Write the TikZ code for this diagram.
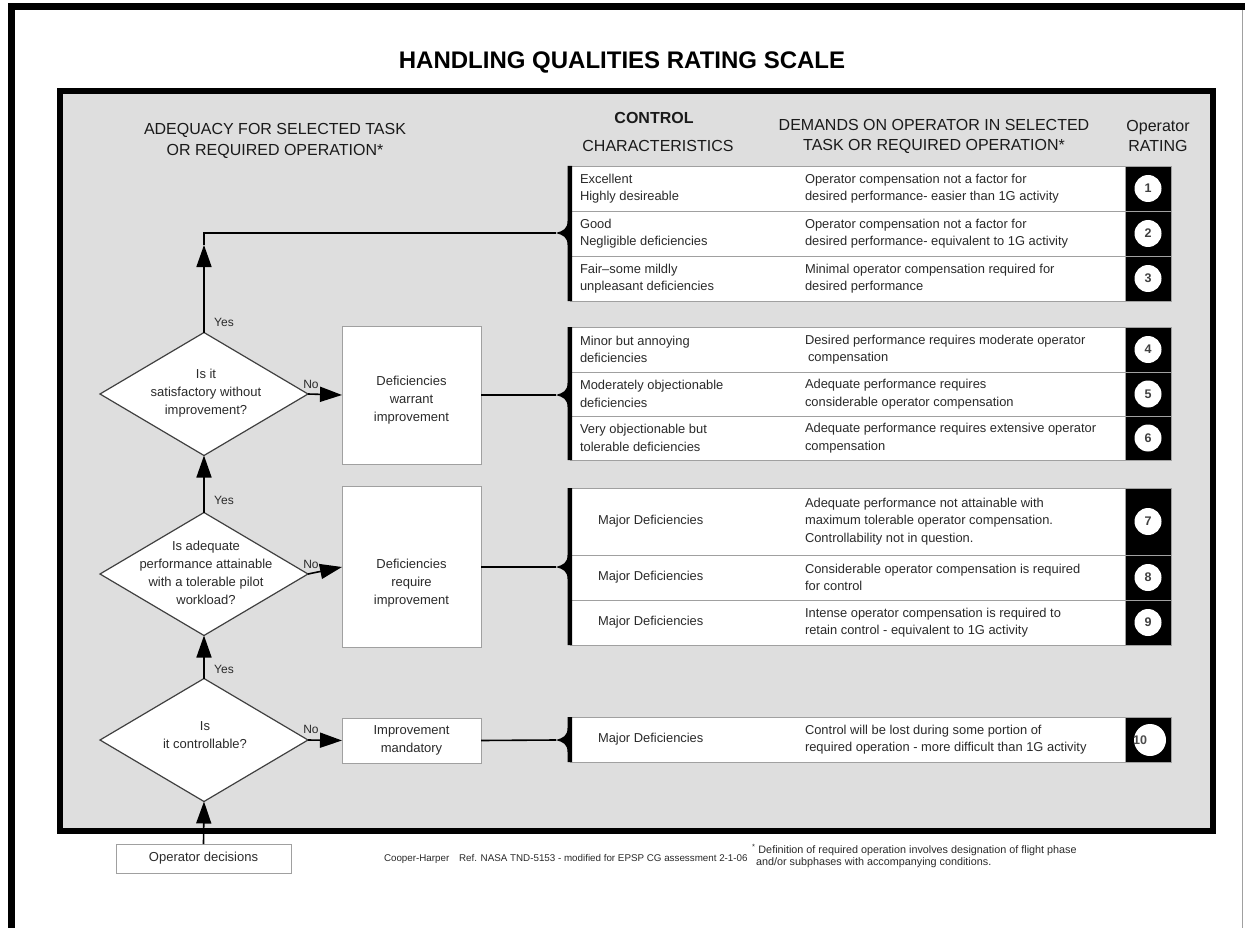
\documentclass[tikz,border=0pt]{standalone}
\usepackage{fontspec}
\setmainfont{Liberation Sans}
\usetikzlibrary{arrows.meta,shapes.geometric}
\definecolor{panel}{HTML}{DEDEDE}
\definecolor{ink}{HTML}{2A2A2A}
\definecolor{hink}{HTML}{1A1A1A}
\definecolor{edge}{HTML}{A0A0A0}
\newcommand\titlefnt{\fontsize{24}{28}\selectfont\bfseries}
\newcommand\hdrfnt{\fontsize{16}{21}\selectfont}
\newcommand\rowfnt{\fontsize{12.9}{17.5}\selectfont}
\newcommand\flowfnt{\fontsize{13}{18}\selectfont}
\newcommand\labfnt{\fontsize{12}{14}\selectfont}
\newcommand\notefnt{\fontsize{10.8}{11.5}\selectfont}
\newcommand\ratingrow[6]{%
  \node[rowbox, minimum height=#3pt] (row#1) at (570,#2) {};
  \node[ratebox, minimum height=#3pt] (rk#1) at (1125,#2) {};
  \node[ltxt] (rc#1) at (#6,#2+#3/2) {#4};
  \node[ltxt] (rd#1) at (805,#2+#3/2) {#5};
}
\newcommand\grpbrace[3]{%
  \fill[black] (572,#1) -- (567.5,#1) -- (567.5,#2-12)
    .. controls (567.5,#2-4) and (563,#2-2) .. (556,#2)
    .. controls (563,#2+2) and (567.5,#2+4) .. (567.5,#2+12)
    -- (567.5,#3) -- (572,#3) -- cycle;}
\begin{document}
\begin{tikzpicture}[x=1pt,y=-1pt,
  every node/.style={inner sep=0pt, outer sep=0pt},
  conn/.style={line width=1.6pt, draw=black},
  arr/.style={conn, -{Triangle[length=22pt,width=15pt]}},
  dia/.style={diamond, draw=black!75, line width=1.2pt, fill=white,
    minimum width=208pt, minimum height=123pt},
  wbox/.style={rectangle, draw=edge, line width=0.9pt, fill=white, align=center,
    font=\flowfnt, text=ink},
  rowbox/.style={rectangle, draw=edge, line width=0.9pt, fill=white,
    anchor=north west, minimum width=555pt},
  ratebox/.style={rectangle, fill=black, draw=edge, line width=0.6pt,
    anchor=north west, minimum width=46pt},
  ratenum/.style={circle, fill=white, minimum size=27pt,
    font=\fontsize{12.5}{13}\selectfont\bfseries, text=black!75},
  ltxt/.style={anchor=west, align=left, font=\rowfnt, text=ink},
  ctxt/.style={align=center, font=\flowfnt, text=ink},
  hdr/.style={align=center, font=\hdrfnt, text=hink},
  lab/.style={font=\labfnt, text=ink}
]
\useasboundingbox (0,0) rectangle (1245,928);
\fill[white] (0,0) rectangle (1245,928);
% outer frame
\draw[line width=7pt] (11.5,928) -- (11.5,6.5) -- (1245,6.5);
\draw[edge, line width=1pt] (1242.5,10) -- (1242.5,928);
% title
\node[font=\titlefnt, text=black] (title) at (622,62) {HANDLING QUALITIES RATING SCALE};
% panel
\draw[line width=6.5pt, fill=panel] (60,91) rectangle (1213,831);
% headers
\node[hdr] (h1) at (275,141) {ADEQUACY FOR SELECTED TASK\\OR REQUIRED OPERATION*};
\node[hdr, font=\hdrfnt\bfseries] (h2) at (654,118) {CONTROL};
\node[hdr] (h3) at (658,146) {CHARACTERISTICS};
\node[hdr, font=\fontsize{16}{20}\selectfont] (h4) at (934,136) {DEMANDS ON OPERATOR IN SELECTED\\TASK OR REQUIRED OPERATION*};
\node[hdr, font=\fontsize{16}{20}\selectfont] (h5) at (1158,136) {Operator\\RATING};

% rating rows
\ratingrow{1}{166}{45}{Excellent\\Highly desireable}{Operator compensation not a factor for\\desired performance- easier than 1G activity}{580}
\ratingrow{2}{211}{45}{Good\\Negligible deficiencies}{Operator compensation not a factor for\\desired performance- equivalent to 1G activity}{580}
\ratingrow{3}{256}{45}{Fair--some mildly\\unpleasant deficiencies}{Minimal operator compensation required for\\desired performance}{580}
\ratingrow{4}{327}{45}{Minor but annoying\\deficiencies}{Desired performance requires moderate operator\\\hspace*{3pt}compensation}{580}
\ratingrow{5}{372}{44}{Moderately objectionable\\deficiencies}{Adequate performance requires\\considerable operator compensation}{580}
\ratingrow{6}{416}{44}{Very objectionable but\\tolerable deficiencies}{Adequate performance requires extensive operator\\compensation}{580}
\ratingrow{7}{488}{67}{Major Deficiencies}{Adequate performance not attainable with\\maximum tolerable operator compensation.\\Controllability not in question.}{598}
\ratingrow{8}{555}{45}{Major Deficiencies}{Considerable operator compensation is required\\for control}{598}
\ratingrow{9}{600}{45}{Major Deficiencies}{Intense operator compensation is required to\\retain control - equivalent to 1G activity}{598}
\ratingrow{10}{717}{45}{Major Deficiencies}{Control will be lost during some portion of\\required operation - more difficult than 1G activity}{598}

\node[ratenum] (n1) at (rk1.center) {1};
\node[ratenum] (n2) at (rk2.center) {2};
\node[ratenum] (n3) at (rk3.center) {3};
\node[ratenum] (n4) at (rk4.center) {4};
\node[ratenum] (n5) at (rk5.center) {5};
\node[ratenum] (n6) at (rk6.center) {6};
\node[ratenum] (n7) at (rk7.center) {7};
\node[ratenum] (n8) at (rk8.center) {8};
\node[ratenum] (n9) at (rk9.center) {9};
\node[circle, fill=white, minimum size=32pt] (n10) at (1150,740) {};
\node[font=\fontsize{12.5}{13}\selectfont\bfseries, text=black!70] (n10t) at (1140,740) {10};

% group braces
\grpbrace{166}{233}{301}
\grpbrace{327}{395}{460}
\grpbrace{488}{567}{645}
\grpbrace{717}{740}{762}
\coordinate (g1) at (556,233);
\coordinate (g2) at (556,395);
\coordinate (g3) at (556,567);
\coordinate (g4) at (556,740);

% decision diamonds
\node[dia] (D1) at (204,394) {};
\node[ctxt] (D1t) at (206,393) {Is it\\satisfactory without\\improvement?};
\node[dia] (D2) at (204,574) {};
\node[ctxt] (D2t) at (206,573) {Is adequate\\performance attainable\\with a tolerable pilot\\workload?};
\node[dia] (D3) at (204,740) {};
\node[ctxt] (D3t) at (205,735) {Is\\it controllable?};

% boxes
\node[wbox, minimum width=139pt, minimum height=138pt] (B1) at (411.5,395) {};
\node[ctxt] (B1t) at (411.5,400) {Deficiencies\\warrant\\improvement};
\node[wbox, minimum width=139pt, minimum height=161pt] (B2) at (411.5,567) {};
\node[ctxt] (B2t) at (411.5,583) {Deficiencies\\require\\improvement};
\node[wbox, minimum width=139pt, minimum height=45pt] (B3) at (411.5,740.5) {Improvement\\mandatory};
\node[wbox, minimum width=175pt, minimum height=29pt] (OD) at (203.5,858.5) {Operator decisions};

% connectors
\coordinate (a1) at (204,245);
\coordinate (c1) at (204,233);
\draw[arr] (D1.north) -- (a1);
\draw[conn] (a1) -- (c1) -- (g1);
\draw[arr] (D2.north) -- (D1.south);
\draw[arr] (D3.north) -- (D2.south);
\draw[arr] (OD.north) -- (D3.south);
\draw[arr] (D1.east) -- (B1.west);
\draw[arr] (D2.east) -- (B2.west);
\draw[arr] (D3.east) -- (B3.west);
\draw[conn] (B1.east) -- (g2);
\draw[conn] (B2.east) -- (g3);
\draw[conn] (B3.east) -- (g4);

% labels
\node[lab] (y1) at (224,322) {Yes};
\node[lab] (y2) at (224,500) {Yes};
\node[lab] (y3) at (224,669) {Yes};
\node[lab] (no1) at (311,384) {No};
\node[lab] (no2) at (311,564) {No};
\node[lab] (no3) at (311,729) {No};

% footer
\node[anchor=west, font=\fontsize{9.8}{12}\selectfont, text=ink] (ref) at (384,859) {Cooper-Harper\quad Ref. NASA TND-5153 - modified for EPSP CG assessment 2-1-06};
\node[anchor=west, align=left, font=\notefnt, text=ink] (fn) at (752,856) {\textsuperscript{*} Definition of required operation involves designation of flight phase\\\hspace*{4pt}and/or subphases with accompanying conditions.};
\end{tikzpicture}
\end{document}
